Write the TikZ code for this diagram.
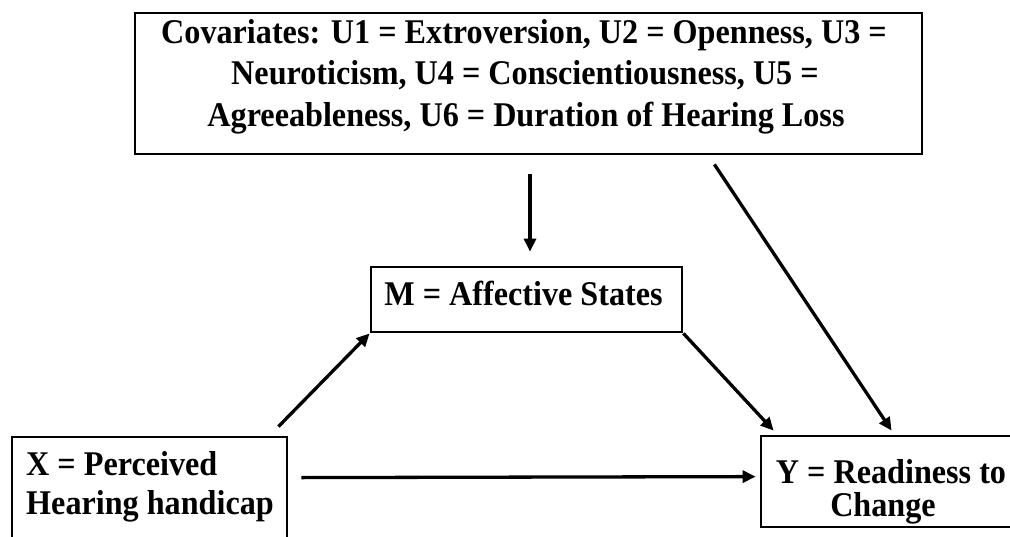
\documentclass[tikz,border=0pt]{standalone}
\usepackage{graphicx}
\usepackage{fontspec}
\setmainfont{Liberation Serif}
\usetikzlibrary{arrows.meta}
\newcommand\lbltxt[1]{\scalebox{0.975}[1.05]{#1}}
\begin{document}
\begin{tikzpicture}[x=1pt,y=-1pt,
  box/.style={draw, line width=2.8pt, inner sep=0pt},
  txt/.style={font=\bfseries\fontsize{33}{40}\selectfont, inner sep=0pt, anchor=base},
  arr/.style={line width=3.3pt, -{Triangle[length=13pt,width=12pt]}}]
\useasboundingbox (0,0) rectangle (1010,536);
\clip (0,0) rectangle (1010,536);
\fill[white] (0,0) rectangle (1010,536);
% boxes
\node[box, minimum width=787pt, minimum height=141pt] (cov) at (528.5,83.5) {};
\node[box, minimum width=311pt, minimum height=65pt] (M) at (526.5,299.5) {};
\node[box, minimum width=275pt, minimum height=111pt] (X) at (149.5,492.5) {};
\node[box, minimum width=254pt, minimum height=91pt] (Y) at (888,481.5) {};
% texts
\node[txt] (cov1) at (524,43) {\lbltxt{Covariates: U1 = Extroversion, U2 = Openness, U3 =}};
\node[txt] (cov2) at (525,84) {\lbltxt{Neuroticism, U4 = Conscientiousness, U5 =}};
\node[txt] (cov3) at (526,126) {\lbltxt{Agreeableness, U6 = Duration of Hearing Loss}};
\node[txt] (Mt) at (523.5,305) {\lbltxt{M = Affective States}};
\node[txt, anchor=base west] (X1) at (26,475) {\lbltxt{X = Perceived}};
\node[txt, anchor=base west] (X2) at (26,514) {\lbltxt{Hearing handicap}};
\node[txt] (Y1) at (891,483) {\lbltxt{Y = Readiness to}};
\node[txt] (Y2) at (883,516) {\lbltxt{Change}};
% arrows
\draw[arr] ([xshift=1.5pt,yshift=-19pt]cov.south) -- ([xshift=3.5pt,yshift=14pt]M.north);
\draw[arr] ([xshift=-10pt,yshift=9pt]X.north east) -- (M.south west);
\draw[arr] (M.south east) -- ([xshift=14pt,yshift=4pt]Y.north west);
\draw[arr] ([xshift=-209pt,yshift=-9pt]cov.south east) -- ([xshift=132pt,yshift=4pt]Y.north west);
\draw[arr] ([xshift=13pt,yshift=-42pt]X.north east) -- ([xshift=-4pt,yshift=-42pt]Y.north west);
\end{tikzpicture}
\end{document}
